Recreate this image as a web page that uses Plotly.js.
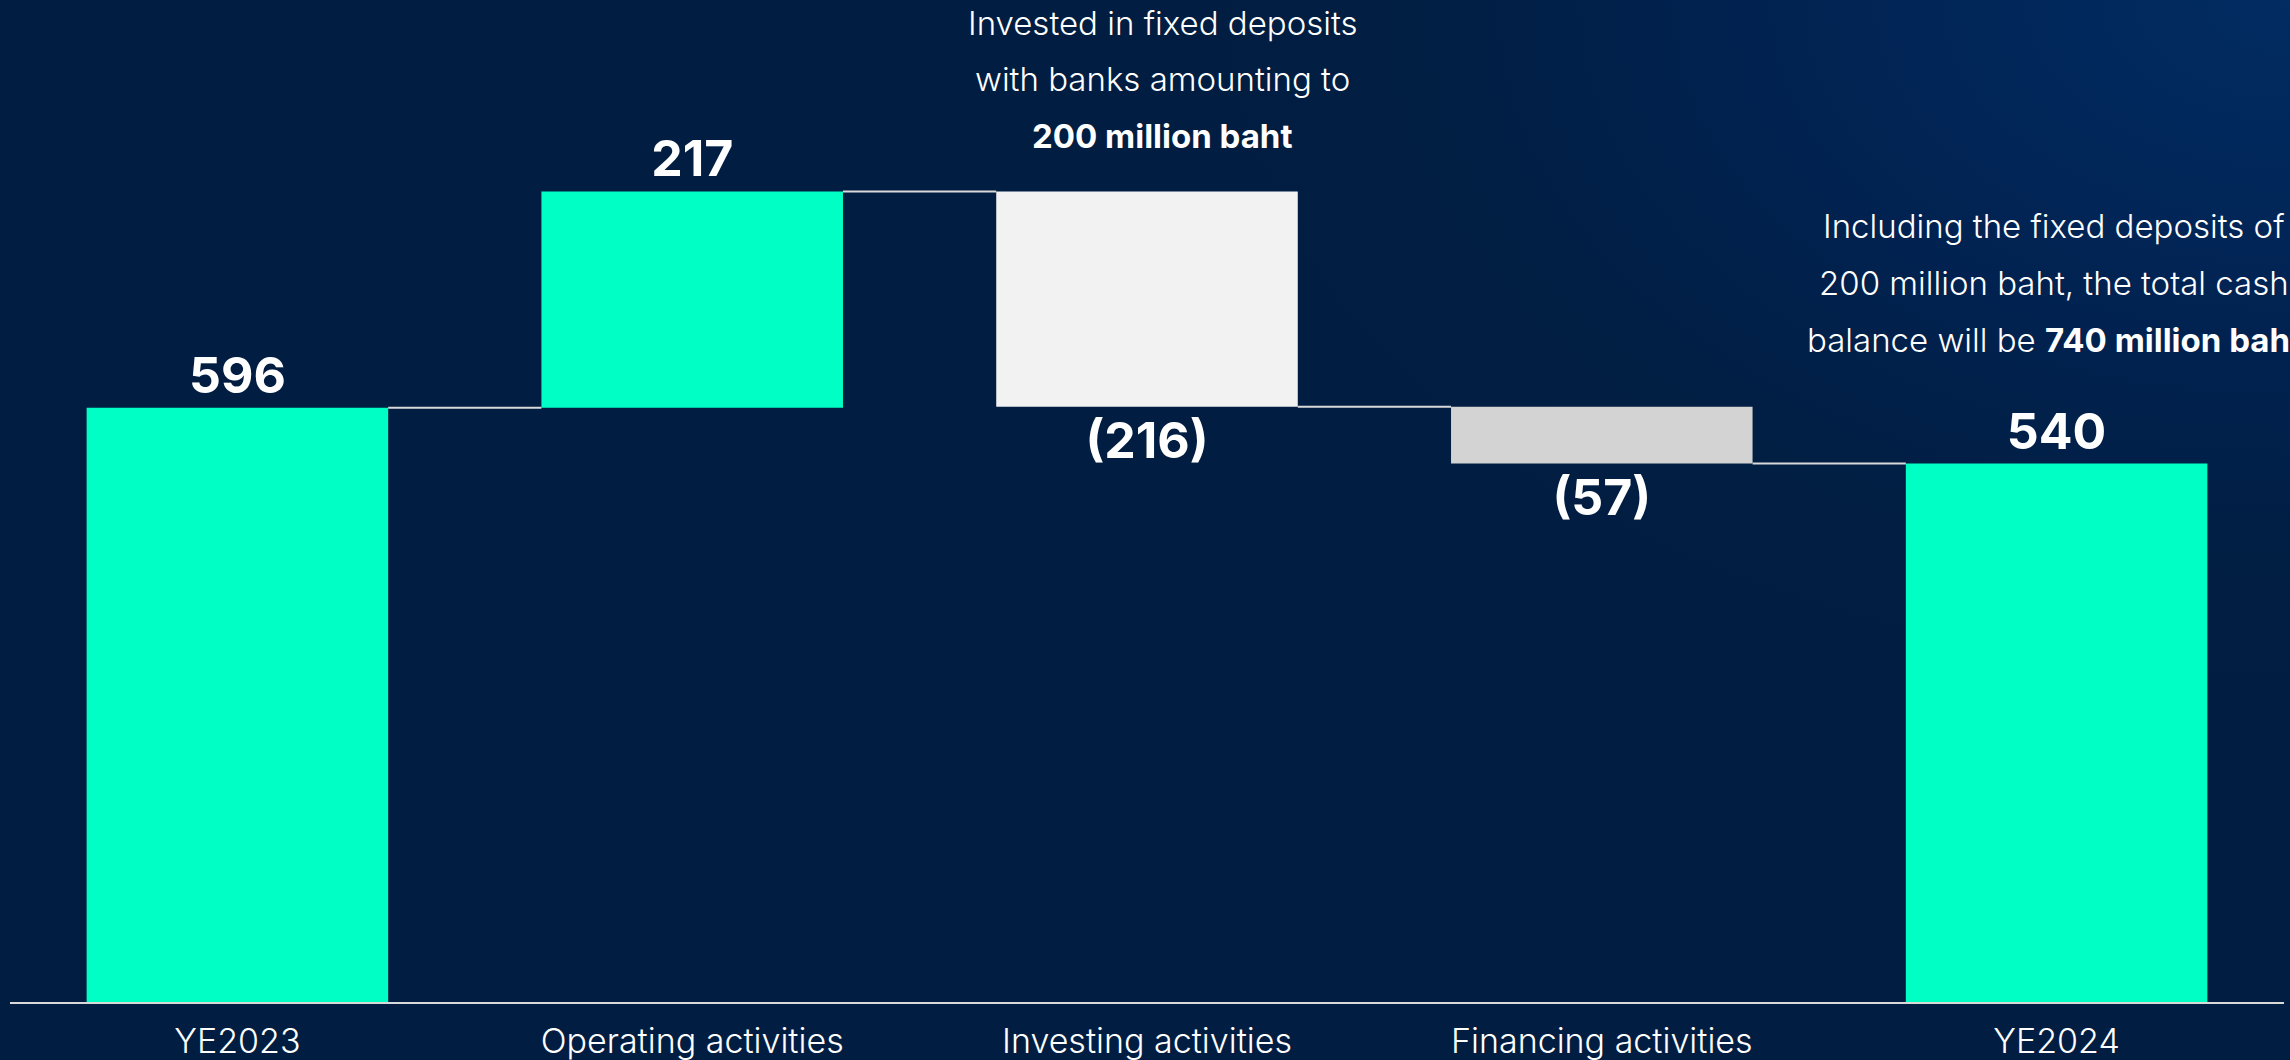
<!DOCTYPE html>
<html>
<head>
<meta charset="utf-8">
<script src="https://cdn.plot.ly/plotly-3.0.1.min.js"></script>
<style>
  html, body { margin: 0; padding: 0; width: 2290px; height: 1060px; overflow: hidden; }
  body {
    background: radial-gradient(ellipse 1100px 700px at 100% 0%, #022c62 0%, #01275a 25%, #012250 50%, #011e43 80%, #011e42 100%);
    background-color: #011e42;
  }
  #chart { width: 2290px; height: 1060px; }
</style>
</head>
<body>
<div id="chart"></div>
<script>
// ---- Data ----
const categories = ["YE2023", "Operating activities", "Investing activities", "Financing activities", "YE2024"];
const measures   = ["absolute", "relative", "relative", "relative", "total"];
const values     = [596, 217, -216, -57, 540];
const barColors  = ["#00FFC5", "#00FFC5", "#F2F2F2", "#D3D3D3", "#00FFC5"];

const noteTopLines   = ["Invested in fixed deposits", "with banks amounting to", "<b>200 million baht</b>"];
const noteRightLines = ["Including the fixed deposits of", "200 million baht, the total cash", "balance will be <b>740 million baht</b>"];

// ---- Derived bar geometry (bases / levels) from the data ----
const bases = [], heights = [], levels = [];
let running = 0;
values.forEach((v, i) => {
  if (measures[i] === "absolute" || measures[i] === "total") {
    bases.push(0); heights.push(v); running = v;
  } else {
    bases.push(running); heights.push(v); running += v;
  }
  levels.push(running);
});
const labels = values.map(v => v < 0 ? "(" + (-v) + ")" : String(v));

const barWidthFrac = 0.663;

const shapes = [];
for (let i = 0; i < categories.length - 1; i++) {
  shapes.push({
    type: "line", xref: "x", yref: "y",
    x0: i + barWidthFrac / 2, x1: i + 1 - barWidthFrac / 2,
    y0: levels[i], y1: levels[i],
    line: { color: "#D9D9D9", width: 2 }
  });
}

const trace = {
  type: "bar",
  x: categories,
  y: heights,
  base: bases,
  marker: { color: barColors, line: { width: 0 } },
  text: labels,
  textposition: "outside",
  cliponaxis: false,
  constraintext: "none",
  textfont: { family: "Inter, 'Noto Sans', sans-serif", size: 50, color: "#FFFFFF", weight: 700 },
  hoverinfo: "skip"
};

const noteFont = { family: "Inter, 'Noto Sans', sans-serif", size: 33, color: "#FFFFFF", weight: 300 };
const annotations = [];
const topY = [0.977, 0.921, 0.864];
noteTopLines.forEach((t, i) => annotations.push({
  xref: "paper", yref: "paper", x: 0.507, y: topY[i], xanchor: "center", yanchor: "middle",
  text: t, showarrow: false, font: noteFont
}));
const rightY = [0.774, 0.718, 0.661];
noteRightLines.forEach((t, i) => annotations.push({
  xref: "paper", yref: "paper", x: 0.899, y: rightY[i], xanchor: "center", yanchor: "middle",
  text: t, showarrow: false, font: noteFont
}));

const layout = {
  width: 2290, height: 1060,
  paper_bgcolor: "rgba(0,0,0,0)",
  plot_bgcolor: "rgba(0,0,0,0)",
  margin: { l: 10, r: 6, t: 0, b: 58 },
  bargap: 1 - barWidthFrac,
  showlegend: false,
  xaxis: {
    type: "category",
    showline: true, linecolor: "#D9D9D9", linewidth: 2,
    showgrid: false, zeroline: false, ticks: "",
    ticklabelstandoff: 8,
    tickfont: { family: "Inter, 'Noto Sans', sans-serif", size: 34, color: "#FFFFFF", weight: 300 },
    automargin: false, fixedrange: true
  },
  yaxis: {
    range: [0, 1005], visible: false, showgrid: false, zeroline: false, fixedrange: true
  },
  shapes: shapes,
  annotations: annotations
};

Plotly.newPlot("chart", [trace], layout, { displayModeBar: false, staticPlot: true });
</script>
</body>
</html>
